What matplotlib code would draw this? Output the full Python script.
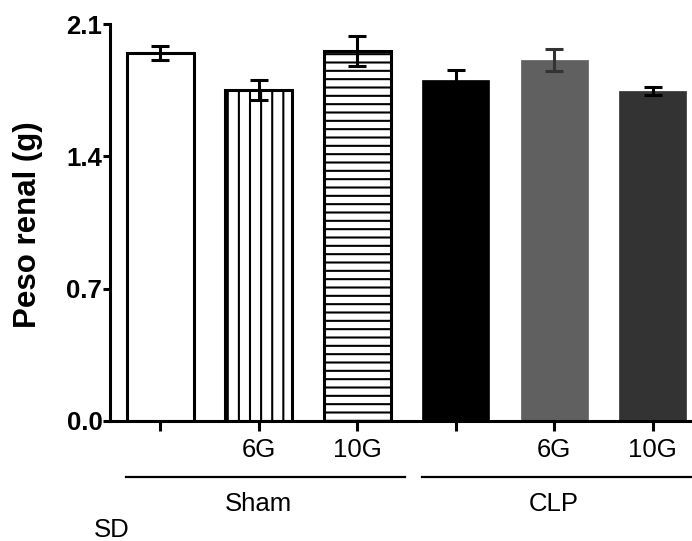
import matplotlib
matplotlib.use("Agg")
import matplotlib.pyplot as plt
import matplotlib.transforms as mtransforms
import matplotlib.hatch as mhatch

plt.rcParams['font.family'] = ['Liberation Sans', 'DejaVu Sans']
plt.rcParams['hatch.linewidth'] = 1.5

# finer control of hatch spacing (lines per inch per hatch character)
_orig_get_path = mhatch.get_path
def _get_path(hatchpattern, density=6):
    return _orig_get_path(hatchpattern, 3)
mhatch.get_path = _get_path

# data
groups = ["Sham", "CLP"]
tick_labels = ["", "6G", "10G", "", "6G", "10G"]
means = [1.947, 1.752, 1.959, 1.804, 1.910, 1.748]
errors = [0.037, 0.052, 0.080, 0.053, 0.058, 0.021]
fills = ["white", "white", "white", "black", "#606060", "#333333"]
edges = ["black", "black", "black", "black", "#606060", "#333333"]
hatches = ["", "|||", "----", "", "", ""]
err_colors = ["black", "black", "black", "black", "#333333", "black"]
yticks = [0.0, 0.7, 1.4, 2.1]
ytick_labels = ["0.0", "0.7", "1.4", "2.1"]

W, H = 692, 541
fig = plt.figure(figsize=(W/100, H/100), dpi=100)
ax = fig.add_axes([110/W, 1-421/H, 1-110/W, (421-24)/H])

x = list(range(len(means)))
for i in x:
    lw = 2.2 if i < 3 else 0.5
    ax.bar(i, means[i], width=0.68, color=fills[i], edgecolor=edges[i],
           hatch=hatches[i], linewidth=lw, zorder=2)
    ax.errorbar(i, means[i], yerr=errors[i], fmt='none', ecolor=err_colors[i],
                elinewidth=2.2, capsize=6.5, capthick=2.2, zorder=3)

ax.set_xlim(-0.51, 5.4)
ax.set_ylim(0, 2.1)
ax.set_yticks(yticks)
ax.set_yticklabels(ytick_labels, fontsize=18.5, fontweight='bold')
ax.set_xticks(x)
ax.set_xticklabels(tick_labels, fontsize=18.5)
ax.spines['top'].set_visible(False)
ax.spines['right'].set_visible(False)
ax.spines['left'].set_linewidth(2.2)
ax.spines['bottom'].set_linewidth(2.2)
ax.tick_params(axis='y', length=5, width=2.2, pad=0.5)
ax.tick_params(axis='x', length=7, width=2.2, pad=5)
ax.set_ylabel("Peso renal (g)", fontsize=22.5, fontweight='bold')
ax.yaxis.set_label_coords(-(110-43)/(W-110), (421-224.5)/(421-24))

trans = mtransforms.blended_transform_factory(ax.transData, fig.transFigure)
yl = 1 - 477/H
ax.plot([-0.35, 2.49], [yl, yl], color='black', lw=1.6, transform=trans, clip_on=False)
ax.plot([2.66, 5.6], [yl, yl], color='black', lw=1.6, transform=trans, clip_on=False)
ax.text(1, 1 - 504/H, groups[0], transform=trans, ha='center', va='center', fontsize=18.5)
ax.text(4, 1 - 504/H, groups[1], transform=trans, ha='center', va='center', fontsize=18.5)
fig.text(112/W, 1 - 530/H, "SD", ha='center', va='center', fontsize=18.5)

fig.savefig("out.png", dpi=100)
